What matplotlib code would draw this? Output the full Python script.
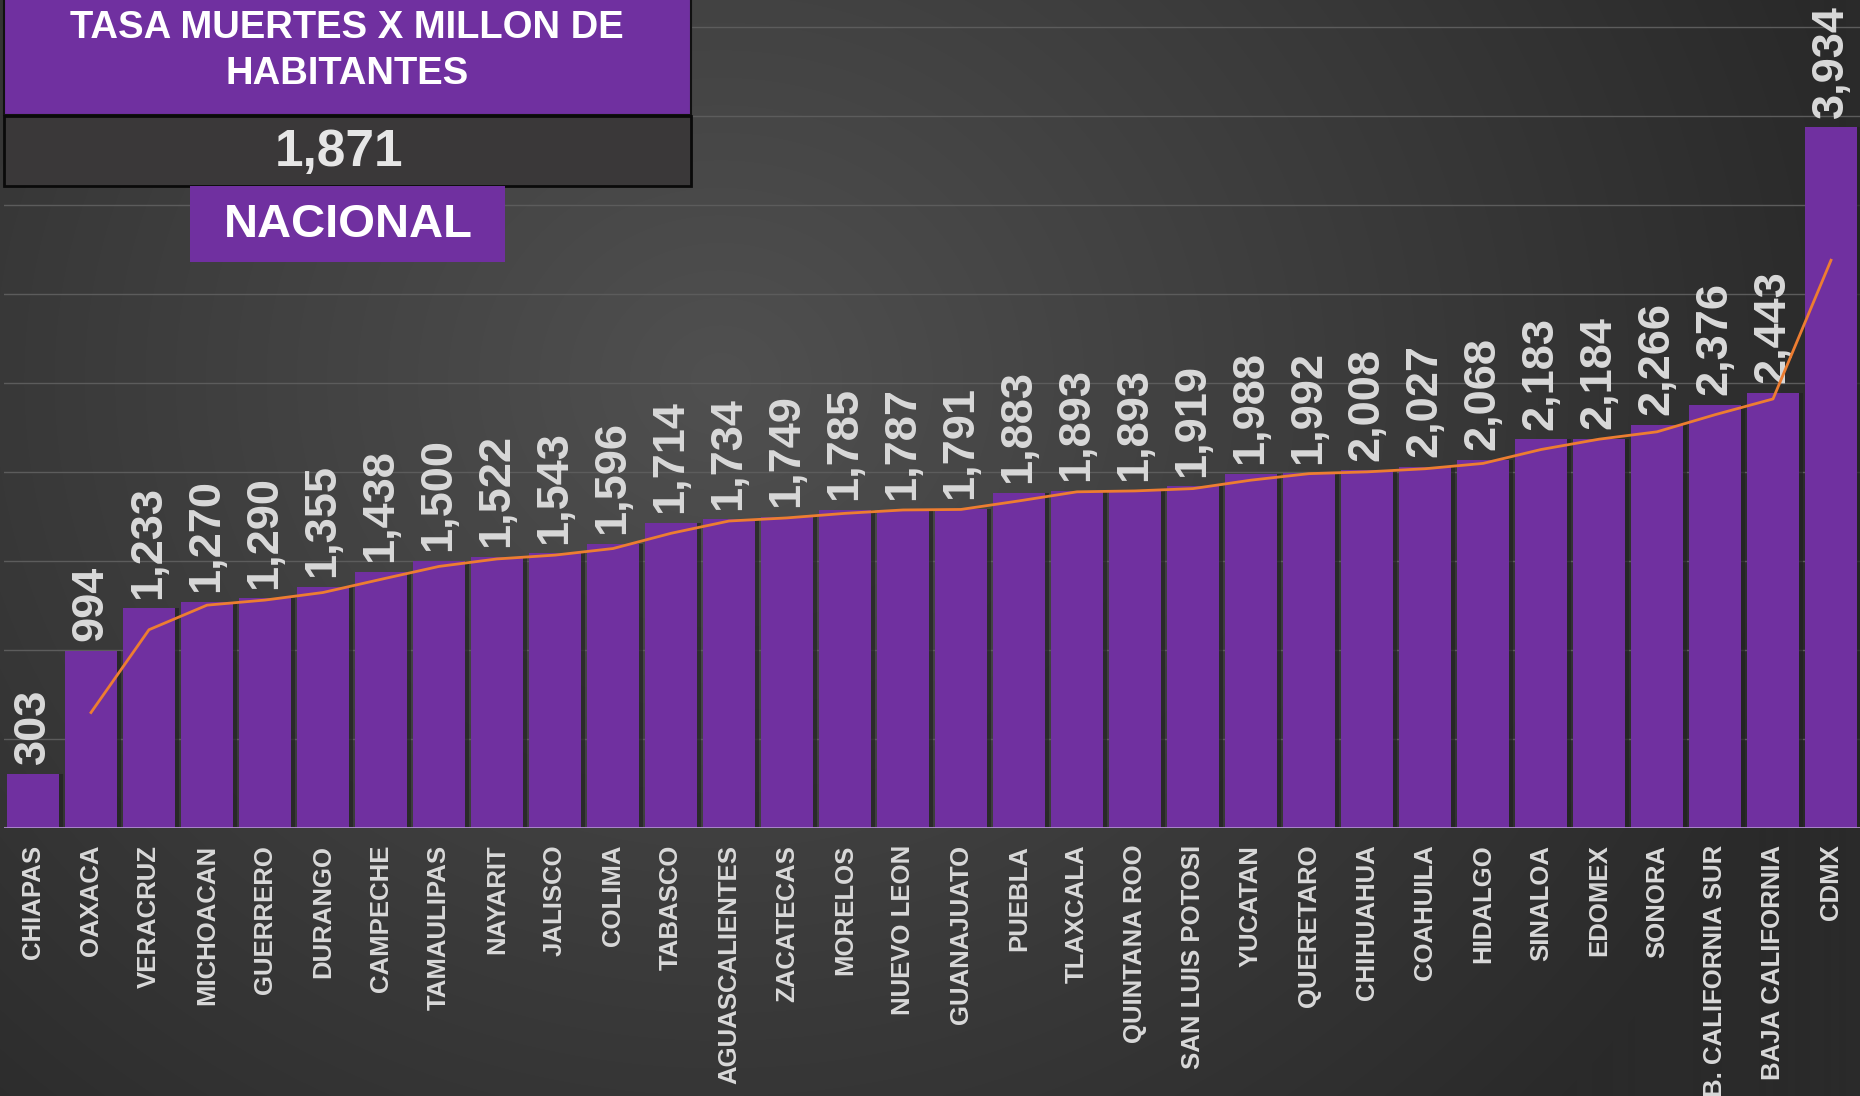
import numpy as np
import pandas as pd
import matplotlib
matplotlib.use('Agg')
import matplotlib.pyplot as plt
from matplotlib.patches import Rectangle

estados = ['CHIAPAS', 'OAXACA', 'VERACRUZ', 'MICHOACAN', 'GUERRERO', 'DURANGO',
           'CAMPECHE', 'TAMAULIPAS', 'NAYARIT', 'JALISCO', 'COLIMA', 'TABASCO',
           'AGUASCALIENTES', 'ZACATECAS', 'MORELOS', 'NUEVO LEON', 'GUANAJUATO',
           'PUEBLA', 'TLAXCALA', 'QUINTANA ROO', 'SAN LUIS POTOSI', 'YUCATAN',
           'QUERETARO', 'CHIHUAHUA', 'COAHUILA', 'HIDALGO', 'SINALOA', 'EDOMEX',
           'SONORA', 'B. CALIFORNIA SUR', 'BAJA CALIFORNIA', 'CDMX']
tasa = [303, 994, 1233, 1270, 1290, 1355, 1438, 1500, 1522, 1543, 1596, 1714,
        1734, 1749, 1785, 1787, 1791, 1883, 1893, 1893, 1919, 1988, 1992, 2008,
        2027, 2068, 2183, 2184, 2266, 2376, 2443, 3934]
titulo = 'TASA MUERTES X MILLON DE\nHABITANTES'
nacional = 1871

plt.rcParams['font.family'] = ['Liberation Sans', 'DejaVu Sans']
morado = '#7030A0'
gris_txt = '#d9d9d9'

fig = plt.figure(figsize=(18.6, 10.96), dpi=100)

# fondo con degradado radial
bg = fig.add_axes([0, 0, 1, 1], zorder=-10)
yy, xx = np.mgrid[0:1096, 0:1860]
r = np.sqrt((xx - 720) ** 2 + ((yy - 380) * 1.1) ** 2)
g = np.clip(0x50 - (0x50 - 0x2a) * r / 1150, 0x2a, 0x50) / 255
bg.imshow(np.dstack([g, g, g]), aspect='auto', extent=[0, 1, 0, 1])
bg.axis('off')

ax = fig.add_axes([4 / 1860, 268 / 1096, 1 - 4 / 1860, 828 / 1096])
ax.set_facecolor('none')
x = np.arange(len(estados))

ax.bar(x + 0.07, tasa, width=0.9, color='#222222', alpha=0.7, zorder=2)
ax.bar(x, tasa, width=0.88, color=morado, zorder=3)

media = pd.Series(tasa).rolling(2).mean()
ax.plot(x[1:], media[1:], color='#ED7D31', lw=2, zorder=5)

for i, v in enumerate(tasa):
    ax.annotate(f'{v:,}', (i, v), xytext=(0, 7), textcoords='offset points',
                rotation=90, ha='center', va='bottom', fontsize=32.5,
                fontweight='bold', color=gris_txt, zorder=4)

ax.set_xlim(-0.5, len(estados) - 0.5)
ax.set_ylim(0, 4650)
ax.set_yticks(range(0, 5000, 500))
ax.set_yticklabels([])
ax.grid(axis='y', color='#5c5c5c', lw=1, zorder=0)
ax.axhline(0, color='#b08cd0', lw=2, zorder=4)
ax.set_xticks(x)
ax.set_xticklabels(estados, rotation=90, fontsize=18.5, fontweight='bold', color=gris_txt)
ax.tick_params(length=0, pad=12)
for s in ax.spines.values():
    s.set_visible(False)

# cuadro de titulo (coordenadas en pixeles desde arriba)
def px(x0, y0, w, h):
    return (x0 / 1860, 1 - (y0 + h) / 1096), w / 1860, h / 1096

xy, w, h = px(4, -5, 687, 120)
fig.patches.append(Rectangle(xy, w, h, transform=fig.transFigure, facecolor=morado,
                             edgecolor='#111111', lw=1.5))
xy, w, h = px(4, 116, 687, 70)
fig.patches.append(Rectangle(xy, w, h, transform=fig.transFigure, facecolor='#3a3839',
                             edgecolor='#0a0a0a', lw=2))
xy, w, h = px(190, 186, 315, 76)
fig.patches.append(Rectangle(xy, w, h, transform=fig.transFigure, facecolor=morado,
                             edgecolor='none'))

fig.text(347 / 1860, 1 - 51 / 1096, titulo, ha='center', va='center', fontsize=27.5,
         fontweight='bold', color='white', linespacing=1.36)
fig.text(339 / 1860, 1 - 153 / 1096, f'{nacional:,}', ha='center', va='center',
         fontsize=37, fontweight='bold', color='#e6e6e6')
fig.text(348 / 1860, 1 - 225 / 1096, 'NACIONAL', ha='center', va='center', fontsize=34,
         fontweight='bold', color='white')

fig.savefig('out.png', dpi=100)
